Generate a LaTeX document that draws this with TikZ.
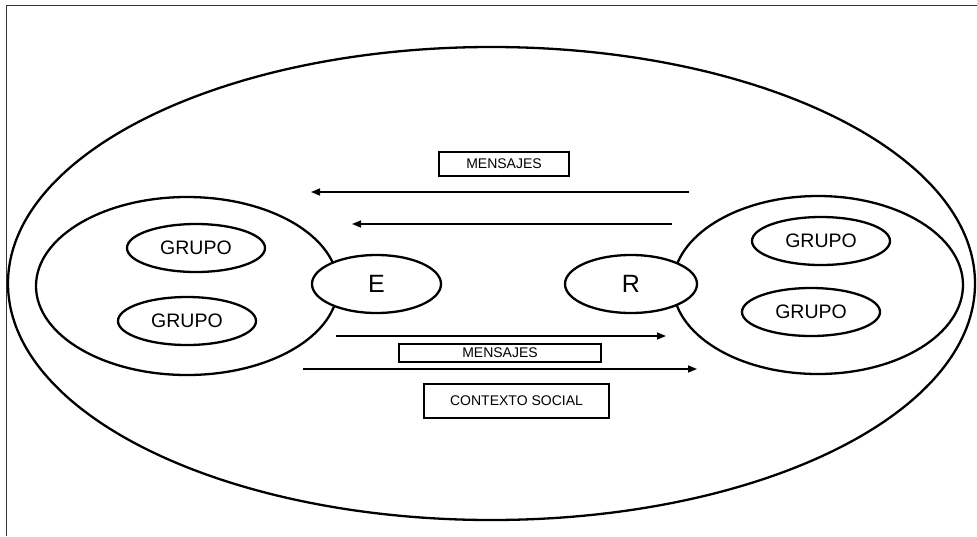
\documentclass[tikz,border=0pt]{standalone}
\usepackage{fontspec}
\setmainfont{Liberation Sans}
\usetikzlibrary{shapes.geometric,arrows.meta}

\tikzset{
  oval/.style={ellipse, draw=black, line width=2.3pt, inner sep=0pt, fill=white},
  label box/.style={rectangle, draw=black, line width=2.2pt, inner sep=0pt, fill=white, font=\fontsize{14}{16}\selectfont},
  flow/.style={line width=1.5pt, -{Triangle[length=9pt,width=7pt]}},
  group/.style={oval, minimum width=138pt, minimum height=48pt, font=\fontsize{19.5}{21}\selectfont},
  agent/.style={oval, minimum height=58pt, font=\fontsize{25}{27}\selectfont}
}

\begin{document}
\begin{tikzpicture}[x=1pt, y=-1pt]
  \useasboundingbox (0,0) rectangle (977,536);

  % frame (left and top edges)
  \draw[line width=1.8pt, black!80] (6.5,536) -- (6.5,5.5) -- (977,5.5);

  % social context
  \node[oval, minimum width=967pt, minimum height=473pt] (ctx) at (491.5,283.5) {};

  % sender and receiver sides
  \node[oval, minimum width=302pt, minimum height=178pt] (left) at (187,286) {};
  \node[oval, minimum width=290pt, minimum height=178pt] (right) at (818,285) {};

  % groups
  \node[group] (g1) at (196,248) {GRUPO};
  \node[group] (g2) at (187,321) {GRUPO};
  \node[group] (g3) at (821,241) {GRUPO};
  \node[group] (g4) at (811,312) {GRUPO};

  % sender and receiver
  \node[agent, minimum width=129pt] (E) at (376.5,284) {E};
  \node[agent, minimum width=132pt] (R) at (631,284) {R};

  % labels
  \node[label box, minimum width=130pt, minimum height=24pt] (m1) at (504,164) {MENSAJES};
  \node[label box, minimum width=202pt, minimum height=18pt] (m2) at (500,353) {MENSAJES};
  \node[label box, minimum width=185pt, minimum height=34pt] (cs) at (516.5,401) {CONTEXTO SOCIAL};

  % message flows
  \coordinate (a1s) at (689,192);
  \coordinate (a1e) at (311,192);
  \coordinate (a2s) at (672,224);
  \coordinate (a2e) at (352,224);
  \coordinate (b1s) at (336,336);
  \coordinate (b1e) at (666,336);
  \coordinate (b2s) at (303,369);
  \coordinate (b2e) at (697,369);
  \draw[flow] (a1s) -- (a1e);
  \draw[flow] (a2s) -- (a2e);
  \draw[flow] (b1s) -- (b1e);
  \draw[flow] (b2s) -- (b2e);
\end{tikzpicture}
\end{document}
